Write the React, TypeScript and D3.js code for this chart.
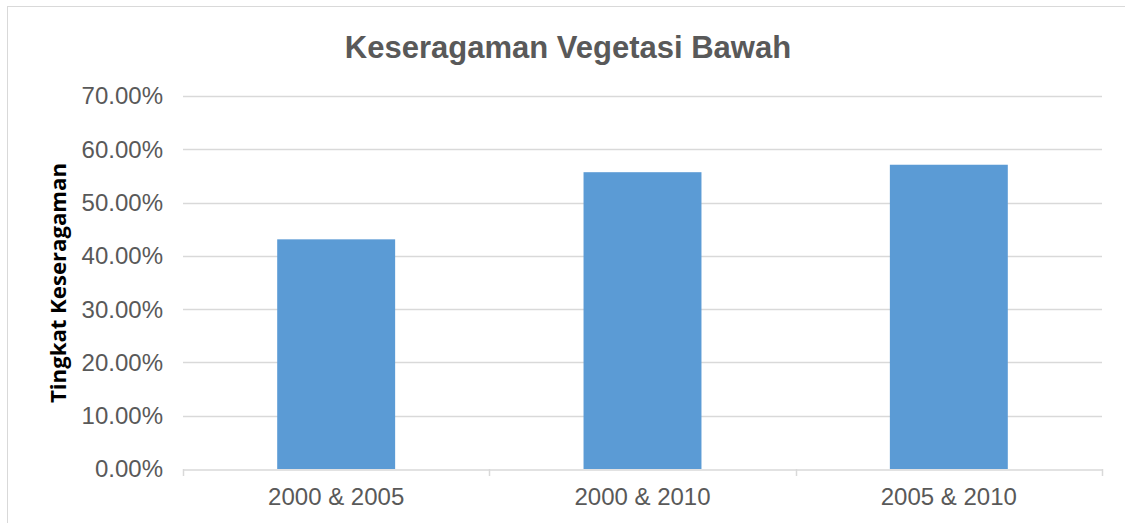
import React, { useEffect, useRef } from 'react';
import * as d3 from 'd3';

const title = 'Keseragaman Vegetasi Bawah';
const yTitle = 'Tingkat Keseragaman';
const categories = ['2000 & 2005', '2000 & 2010', '2005 & 2010'];
const values = [0.431, 0.557, 0.571];
const yTicks = [0, 0.1, 0.2, 0.3, 0.4, 0.5, 0.6, 0.7];

export default function App() {
    const ref = useRef<SVGSVGElement>(null);

    useEffect(() => {
        const width = 1125, height = 523;
        const left = 183, right = 1102, top = 96, bottom = 469;

        const svg = d3.select(ref.current);
        svg.selectAll('*').remove();

        svg.append('rect')
            .attr('width', width)
            .attr('height', height)
            .attr('fill', '#ffffff');

        // chart border
        svg.append('rect')
            .attr('x', 7.5)
            .attr('y', 6.5)
            .attr('width', 1140)
            .attr('height', 540)
            .attr('fill', 'none')
            .attr('stroke', '#d9d9d9')
            .attr('stroke-width', 1);

        const x = d3.scaleBand()
            .domain(categories)
            .range([left, right])
            .paddingInner(0.615)
            .paddingOuter(0.3075);

        const y = d3.scaleLinear()
            .domain([0, 0.7])
            .range([bottom, top]);

        // gridlines
        svg.append('g')
            .selectAll('line')
            .data(yTicks.filter(d => d > 0))
            .join('line')
            .attr('x1', left)
            .attr('x2', right)
            .attr('y1', d => Math.round(y(d)) + 0.5)
            .attr('y2', d => Math.round(y(d)) + 0.5)
            .style('stroke', '#d9d9d9')
            .style('stroke-width', 1.5);

        // y tick labels
        svg.append('g')
            .selectAll('text')
            .data(yTicks)
            .join('text')
            .attr('x', 163)
            .attr('y', d => y(d))
            .attr('dy', '0.35em')
            .attr('text-anchor', 'end')
            .style('font-family', 'Liberation Sans, Arial, sans-serif')
            .style('font-size', '24px')
            .style('fill', '#595959')
            .text(d => (d * 100).toFixed(2) + '%');

        // bars
        svg.append('g')
            .selectAll('rect')
            .data(values)
            .join('rect')
            .attr('x', (d, i) => x(categories[i]) as number)
            .attr('y', d => y(d))
            .attr('width', x.bandwidth())
            .attr('height', d => y(0) - y(d))
            .style('fill', '#5b9bd5');

        // x axis
        const xAxis = d3.axisBottom(x)
            .tickSize(0)
            .tickPadding(18)
            .tickSizeOuter(0);

        const gx = svg.append('g')
            .attr('transform', 'translate(0,' + (bottom + 0.5) + ')')
            .call(xAxis);
        gx.select('.domain').style('stroke', '#d9d9d9').style('stroke-width', 1.5);
        gx.selectAll('text')
            .style('font-family', 'Liberation Sans, Arial, sans-serif')
            .style('font-size', '24px')
            .style('fill', '#595959');

        // category boundary ticks
        const step = x.step();
        for (let index = 0; index <= categories.length; index++) {
            const xp = Math.round(left + index * step) + 0.5;
            svg.append('line')
                .attr('x1', xp)
                .attr('x2', xp)
                .attr('y1', bottom)
                .attr('y2', bottom + 7)
                .style('stroke', '#d9d9d9')
                .style('stroke-width', 1.5);
        }

        // title
        svg.append('text')
            .attr('x', 568)
            .attr('y', 58)
            .attr('text-anchor', 'middle')
            .style('font-family', 'Liberation Sans, Arial, sans-serif')
            .style('font-size', '31px')
            .style('font-weight', 'bold')
            .style('fill', '#595959')
            .text(title);

        // y axis title
        svg.append('text')
            .attr('transform', 'translate(66,283) rotate(-90)')
            .attr('text-anchor', 'middle')
            .attr('textLength', 240)
            .attr('lengthAdjust', 'spacingAndGlyphs')
            .style('font-family', 'Open Sans, Noto Sans, sans-serif')
            .style('font-size', '21px')
            .style('font-weight', 'bold')
            .style('fill', '#000000')
            .text(yTitle);
    }, []);

    return (
        <div>
            <svg ref={ref} width={1125} height={523}
                style={{ position: 'absolute', left: 0, top: 0, display: 'block' }}></svg>
        </div>
    );
}
